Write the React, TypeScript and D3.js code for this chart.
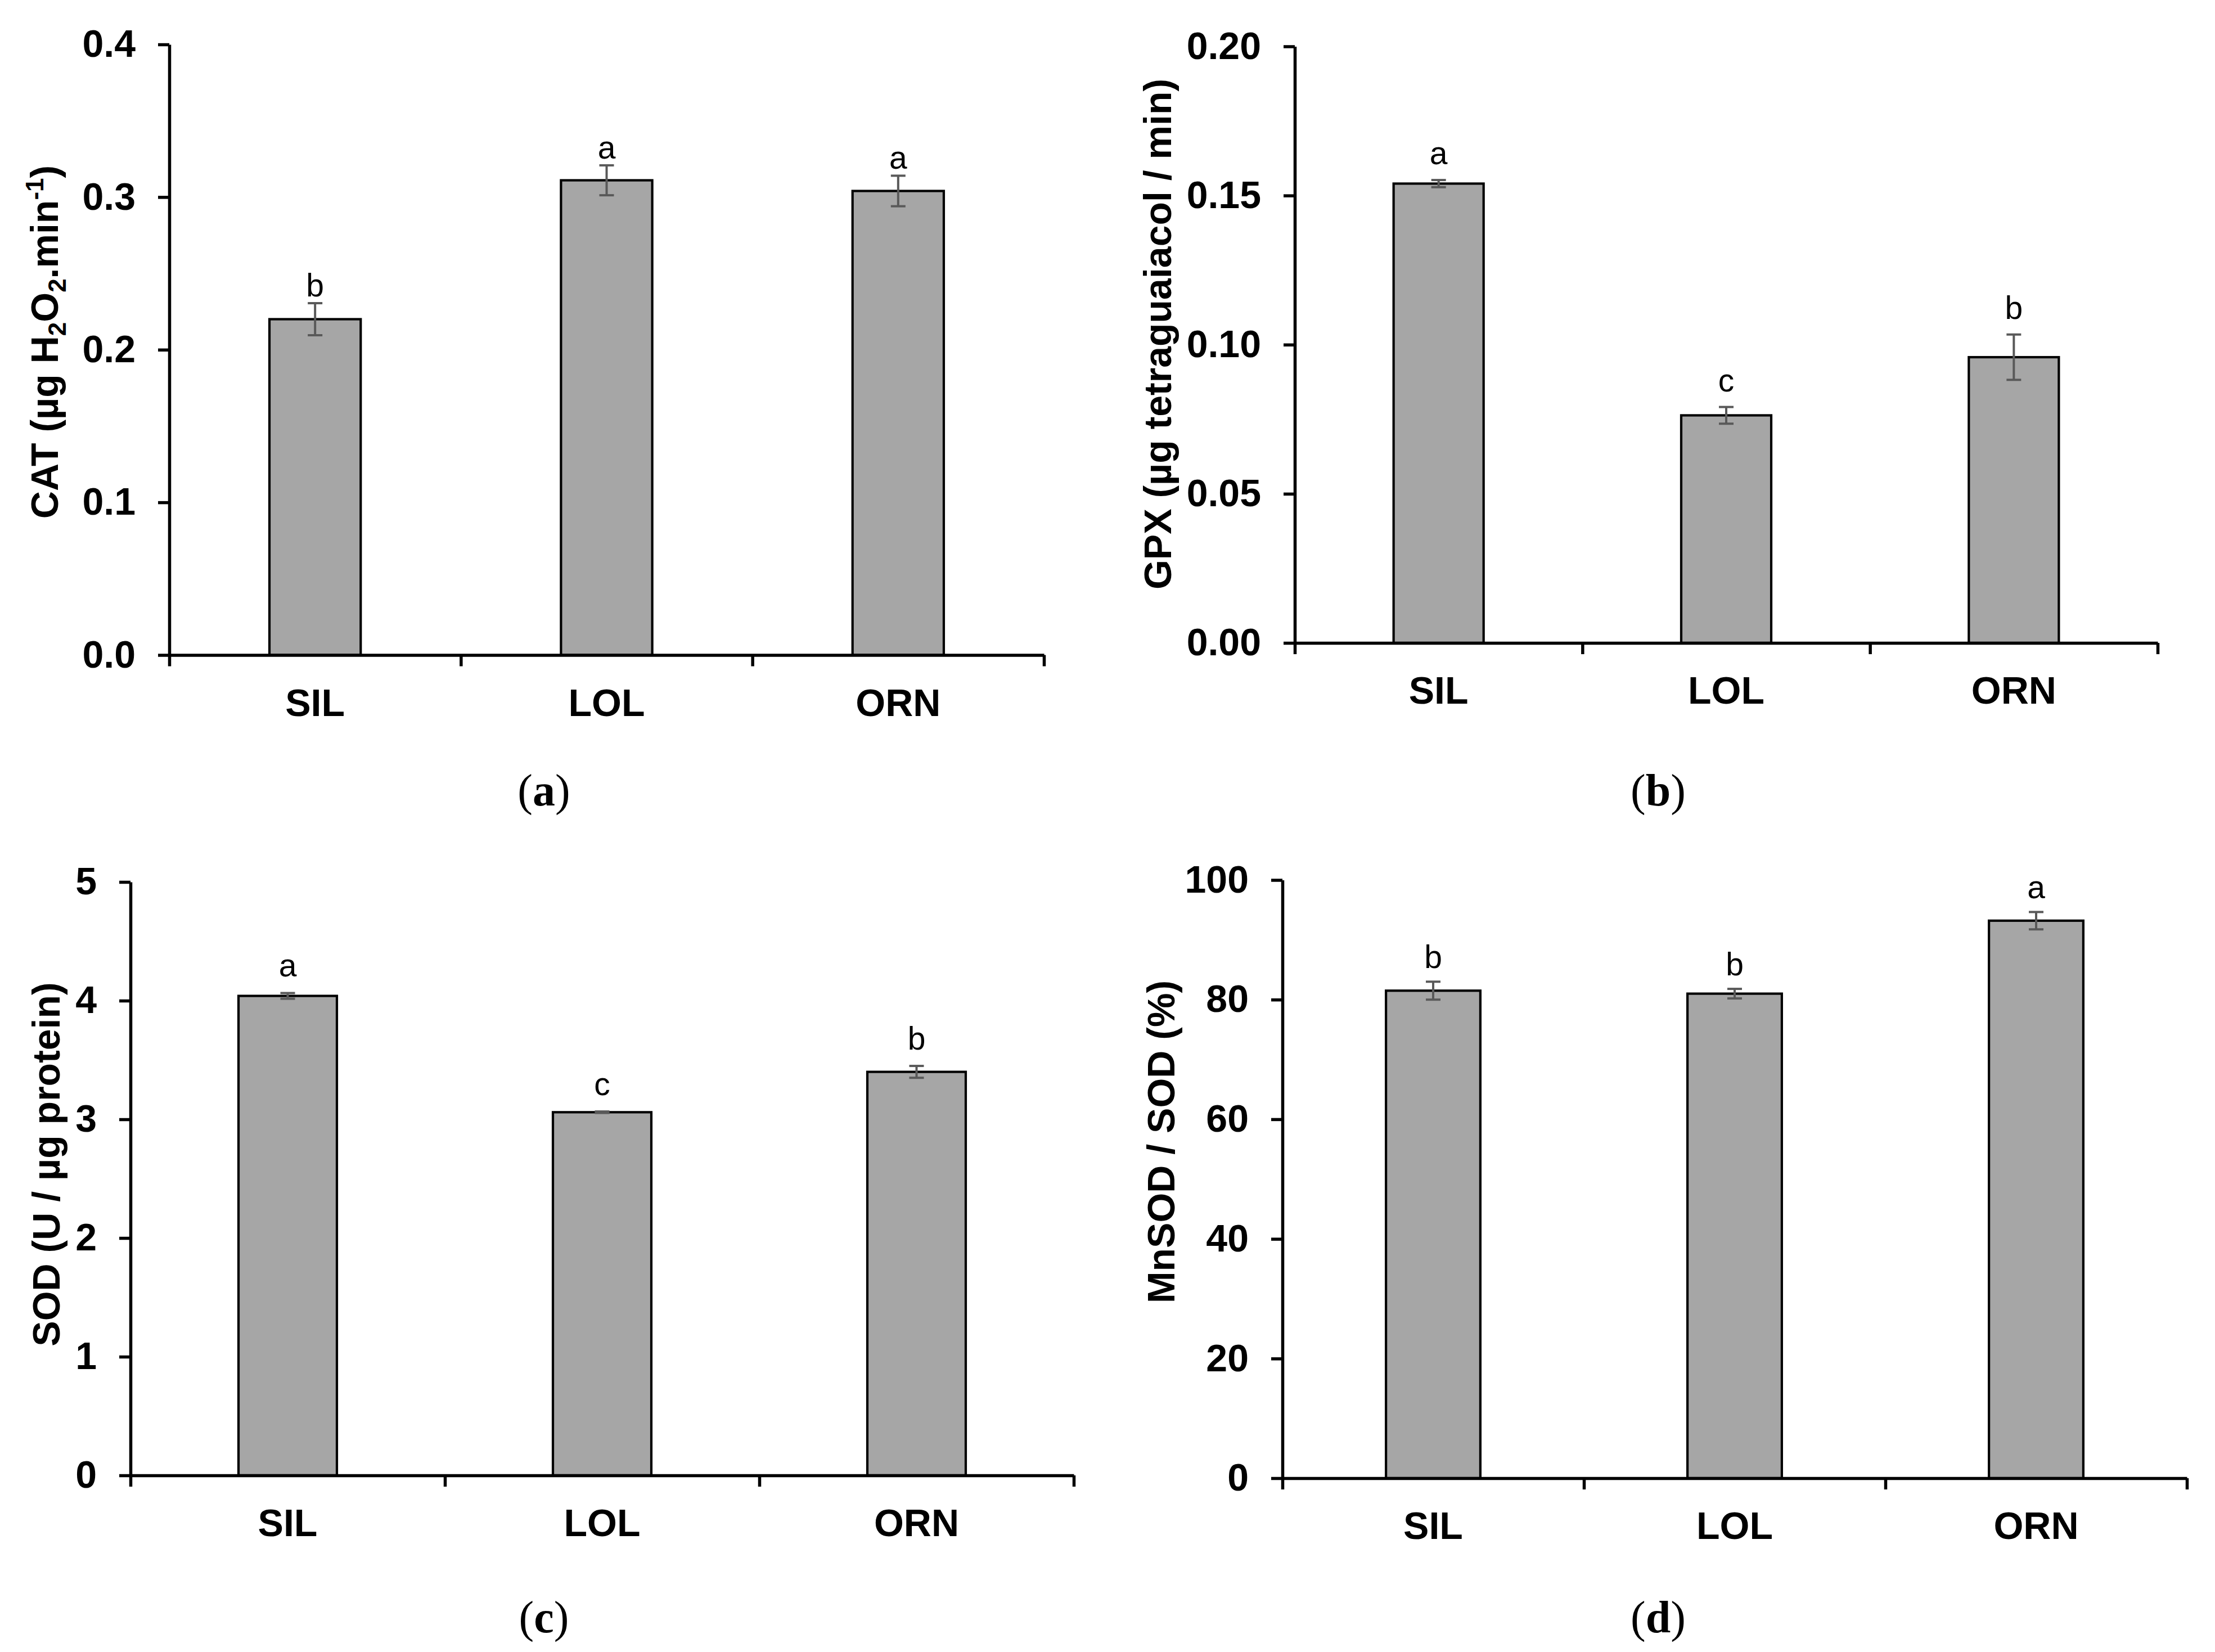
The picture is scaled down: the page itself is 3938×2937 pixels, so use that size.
import { useRef, useEffect } from 'react';
import * as d3 from 'd3';

const categories = ['SIL', 'LOL', 'ORN'];

const catMeans = [0.22, 0.311, 0.304];
const catErrors = [0.0105, 0.0098, 0.01];
const catLetters = ['b', 'a', 'a'];
const catTicks = [0, 0.1, 0.2, 0.3, 0.4];

const gpxMeans = [0.154, 0.0763, 0.0958];
const gpxErrors = [0.0012, 0.0028, 0.0076];
const gpxLetters = ['a', 'c', 'b'];
const gpxTicks = [0, 0.05, 0.1, 0.15, 0.2];

const sodMeans = [4.04, 3.06, 3.40];
const sodErrors = [0.024, 0.006, 0.05];
const sodLetters = ['a', 'c', 'b'];
const sodTicks = [0, 1, 2, 3, 4, 5];

const mnsodMeans = [81.5, 81.0, 93.2];
const mnsodErrors = [1.5, 0.8, 1.45];
const mnsodLetters = ['b', 'b', 'a'];
const mnsodTicks = [0, 20, 40, 60, 80, 100];

const W = 3938;
const H = 2937;
const SANS = '"Liberation Sans", Arial, Helvetica, sans-serif';
const SERIF = '"Liberation Serif", "Times New Roman", serif';

type Panel = {
  tag: string;
  means: number[];
  errors: number[];
  letters: string[];
  ticks: number[];
  fmt: string;
  title: string;
  x0: number; x1: number; yTop: number; yBottom: number;
  titleX: number; titleY: number; capX: number; capY: number;
  letterGap: number;
};

const panels: Panel[] = [
  { tag: 'a', means: catMeans, errors: catErrors, letters: catLetters, ticks: catTicks, fmt: '.1f', title: 'CAT',
    x0: 301, x1: 1856, yTop: 79, yBottom: 1164.5, titleX: 103, titleY: 608, capX: 967, capY: 1432, letterGap: 12 },
  { tag: 'b', means: gpxMeans, errors: gpxErrors, letters: gpxLetters, ticks: gpxTicks, fmt: '.2f', title: 'GPX (µg tetraguaiacol / min)',
    x0: 2302, x1: 3836, yTop: 82.5, yBottom: 1143, titleX: 2082, titleY: 594, capX: 2948, capY: 1432, letterGap: 28 },
  { tag: 'c', means: sodMeans, errors: sodErrors, letters: sodLetters, ticks: sodTicks, fmt: 'd', title: 'SOD (U / µg protein)',
    x0: 232, x1: 1909, yTop: 1568, yBottom: 2623, titleX: 106, titleY: 2070, capX: 967, capY: 2902, letterGap: 29 },
  { tag: 'd', means: mnsodMeans, errors: mnsodErrors, letters: mnsodLetters, ticks: mnsodTicks, fmt: 'd', title: 'MnSOD / SOD (%)',
    x0: 2280, x1: 3888, yTop: 1564.5, yBottom: 2628, titleX: 2088, titleY: 2030, capX: 2948, capY: 2902, letterGap: 24 },
];

export default function App() {
  const svgRef = useRef<SVGSVGElement>(null);

  useEffect(() => {
    if (!svgRef.current) return;
    const svg = d3.select(svgRef.current);
    svg.selectAll('*').remove();

    svg.append('rect').attr('width', W).attr('height', H).attr('fill', '#fff');

    panels.forEach((p) => {
      const g = svg.append('g');
      const yMax = p.ticks[p.ticks.length - 1];
      const y = d3.scaleLinear().domain([0, yMax]).range([p.yBottom, p.yTop]);
      const xBand = d3.scaleBand<string>().domain(categories).range([p.x0, p.x1]).padding(0);
      const xEdge = d3.scaleLinear().domain([0, categories.length]).range([p.x0, p.x1]);
      const barW = xBand.bandwidth() * 0.313;

      // bars
      g.selectAll(null)
        .data(categories)
        .join('rect')
        .attr('x', (c) => xBand(c)! + (xBand.bandwidth() - barW) / 2)
        .attr('y', (_, i) => y(p.means[i]))
        .attr('width', barW)
        .attr('height', (_, i) => p.yBottom - y(p.means[i]))
        .attr('fill', '#a6a6a6')
        .attr('stroke', '#000')
        .attr('stroke-width', 4.2);

      // error bars + significance letters
      categories.forEach((c, i) => {
        const cx = xBand(c)! + xBand.bandwidth() / 2;
        const hi = y(p.means[i] + p.errors[i]);
        const lo = y(p.means[i] - p.errors[i]);
        const eb = g.append('g').attr('stroke', '#595959').attr('stroke-width', 4);
        eb.append('line').attr('x1', cx).attr('x2', cx).attr('y1', hi).attr('y2', lo);
        eb.append('line').attr('x1', cx - 13).attr('x2', cx + 13).attr('y1', hi).attr('y2', hi);
        eb.append('line').attr('x1', cx - 13).attr('x2', cx + 13).attr('y1', lo).attr('y2', lo);
        g.append('text')
          .attr('x', cx).attr('y', hi - p.letterGap)
          .attr('text-anchor', 'middle')
          .style('font-family', SANS).style('font-size', '57px')
          .attr('fill', '#000')
          .text(p.letters[i]);
      });

      // y axis
      g.append('g')
        .attr('transform', `translate(${p.x0},0)`)
        .call(d3.axisLeft(y).tickValues(p.ticks).tickSize(20).tickSizeOuter(0).tickPadding(40)
          .tickFormat((d) => d3.format(p.fmt)(Number(d))))
        .call((ax) => {
          ax.select('.domain').attr('stroke', '#000').attr('stroke-width', 5.5);
          ax.selectAll('line').attr('stroke', '#000').attr('stroke-width', 5.5);
          ax.selectAll('text').attr('fill', '#000')
            .style('font-family', SANS).style('font-size', '68px').style('font-weight', 'bold');
        });

      // x axis with boundary ticks
      g.append('g')
        .attr('transform', `translate(0,${p.yBottom})`)
        .call(d3.axisBottom(xEdge).tickValues(d3.range(categories.length + 1)).tickSize(20).tickSizeOuter(0)
          .tickFormat(() => ''))
        .call((ax) => {
          ax.select('.domain').attr('stroke', '#000').attr('stroke-width', 5.5);
          ax.selectAll('line').attr('stroke', '#000').attr('stroke-width', 5.5);
        });

      // category labels
      g.selectAll(null)
        .data(categories)
        .join('text')
        .attr('x', (c) => xBand(c)! + xBand.bandwidth() / 2)
        .attr('y', p.yBottom + 108)
        .attr('text-anchor', 'middle')
        .attr('fill', '#000')
        .style('font-family', SANS).style('font-size', '68px').style('font-weight', 'bold')
        .text((c) => c);

      // y title
      const t = g.append('text')
        .attr('transform', `translate(${p.titleX},${p.titleY}) rotate(-90)`)
        .attr('text-anchor', 'middle')
        .attr('fill', '#000')
        .style('font-family', SANS).style('font-size', '68px').style('font-weight', 'bold');
      if (p.tag === 'a') {
        t.append('tspan').text('CAT (µg H');
        t.append('tspan').attr('dy', 14).style('font-size', '44px').text('2');
        t.append('tspan').attr('dy', -14).text('O');
        t.append('tspan').attr('dy', 14).style('font-size', '44px').text('2');
        t.append('tspan').attr('dy', -14).text('.min');
        t.append('tspan').attr('dy', -26).style('font-size', '44px').text('-1');
        t.append('tspan').attr('dy', 26).text(')');
      } else {
        t.text(p.title);
      }

      // panel caption
      const cap = g.append('text')
        .attr('x', p.capX).attr('y', p.capY)
        .attr('text-anchor', 'middle')
        .attr('fill', '#000')
        .style('font-family', SERIF).style('font-size', '80px');
      cap.append('tspan').text('(');
      cap.append('tspan').style('font-weight', 'bold').text(p.tag);
      cap.append('tspan').text(')');
    });
  }, []);

  return (
    <svg
      ref={svgRef}
      width={W}
      height={H}
      viewBox={`0 0 ${W} ${H}`}
      style={{ position: 'absolute', left: 0, top: 0, display: 'block' }}
    />
  );
}
